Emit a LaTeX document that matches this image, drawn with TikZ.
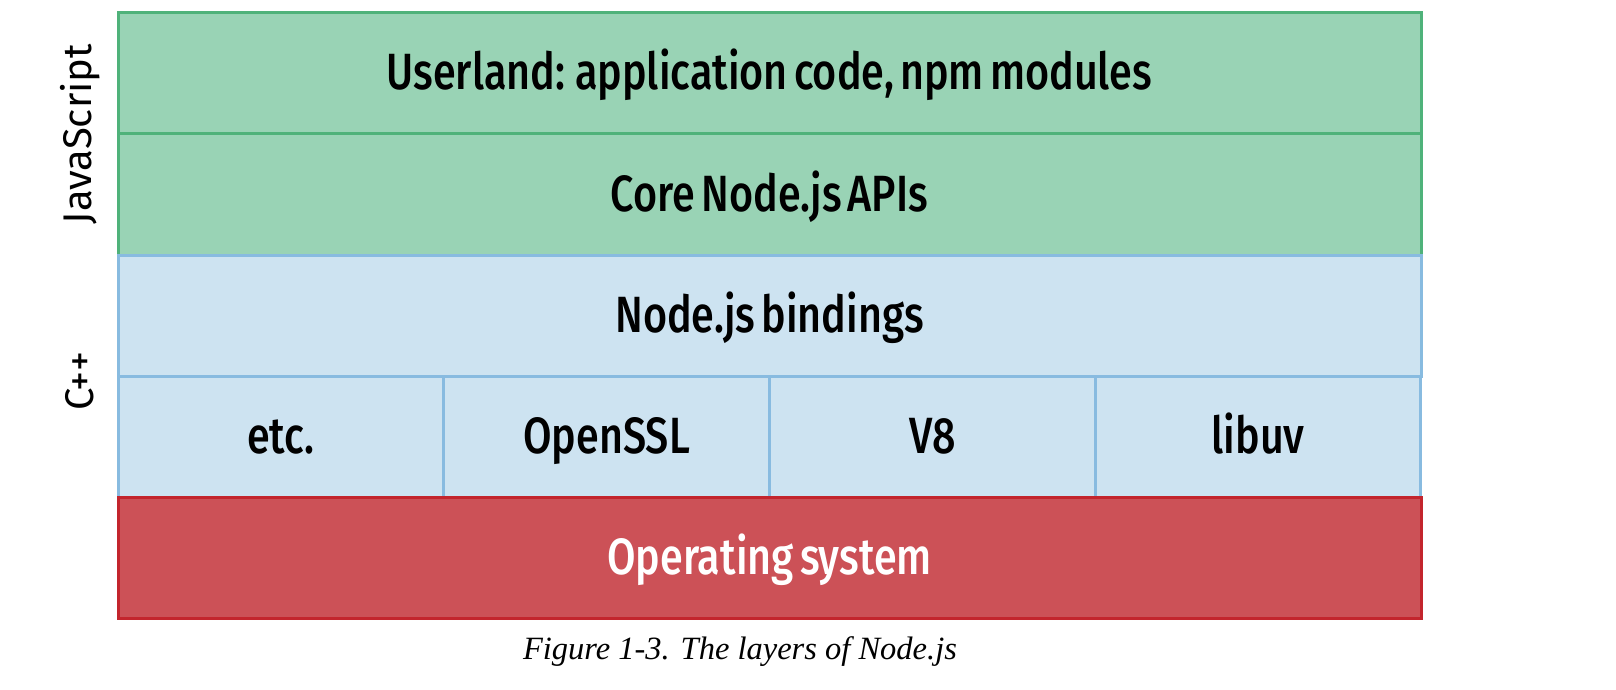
\documentclass[tikz,border=0pt]{standalone}
\usepackage{fontspec}
\setmainfont{Fira Sans}
\newfontfamily\boxfont{Fira Sans Medium}[FakeStretch=0.81, WordSpace=0.6]
\newfontfamily\capfont{Liberation Serif}
\definecolor{gfill}{HTML}{99D3B5}
\definecolor{gline}{HTML}{4FB27A}
\definecolor{bfill}{HTML}{CDE3F1}
\definecolor{bline}{HTML}{88BBE0}
\definecolor{rfill}{HTML}{CC5157}
\definecolor{rline}{HTML}{C3252D}
\tikzset{
  layer/.style={draw, line width=3pt, inner sep=0pt, outer sep=0pt,
    minimum width=1303pt, minimum height=121pt,
    text height=44pt, text depth=11pt,
    font=\boxfont\fontsize{51}{58}\selectfont},
  cell/.style={layer, minimum width=325.75pt},
  jslayer/.style={fill=gfill, draw=gline},
  cpplayer/.style={fill=bfill, draw=bline},
  oslayer/.style={fill=rfill, draw=rline, text=white},
  side/.style={rotate=90, font=\fontsize{40}{46}\selectfont},
}
\begin{document}
\begin{tikzpicture}[x=1pt,y=-1pt]
\useasboundingbox (0,0) rectangle (1616,690);
\node[layer,jslayer] (user) at (769.5,73.5) {Userland: application code, npm modules};
\node[layer,jslayer] (core) at (769.5,194.5) {Core Node.js APIs};
\node[layer,cpplayer] (bind) at (769.5,315.5) {Node.js bindings};
\node[cell,cpplayer] (etc) at (280.9,436.5) {etc.};
\node[cell,cpplayer] (ssl) at (606.6,436.5) {OpenSSL};
\node[cell,cpplayer] (v8) at (932.4,436.5) {V8};
\node[cell,cpplayer] (uv) at (1258.1,436.5) {libuv};
\node[layer,oslayer] (os) at (769.5,558) {Operating system};
\node[side] (js) at (80,134) {JavaScript};
\node[side] (cpp) at (80,381) {C++};
\node[font=\capfont\itshape\fontsize{32.5}{38}\selectfont] (cap) at (740,652) {Figure 1-3. The layers of Node.js};
\end{tikzpicture}
\end{document}
